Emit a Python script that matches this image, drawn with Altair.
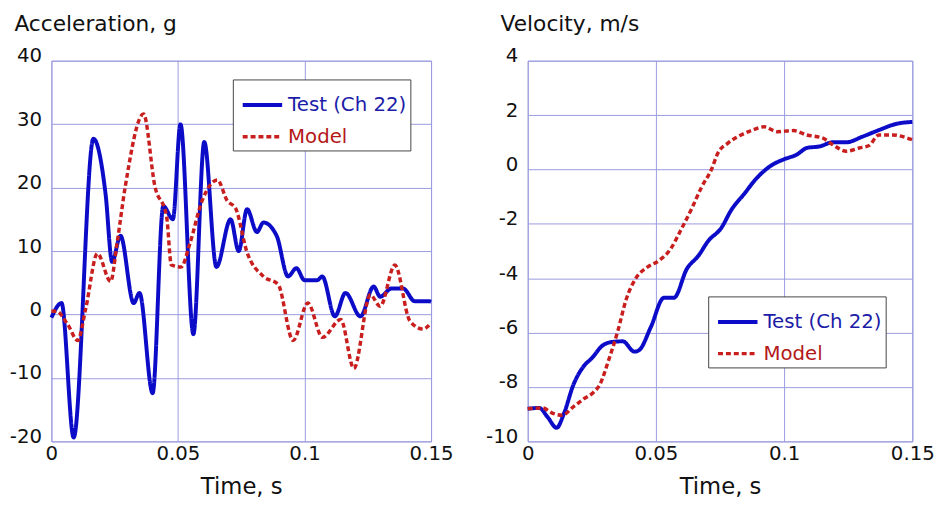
import altair as alt
import pandas as pd

SERIES = ["Test (Ch 22)", "Model"]
BLUE = "#0c0cc8"
RED = "#c81e1e"
GRID = "#9a9ae0"
FONT = "DejaVu Sans"

# ---- Acceleration (g) ----
acc_t_test = [0, 0.004, 0.0088, 0.0166, 0.0214, 0.024, 0.0273, 0.0325, 0.0348, 0.04,
              0.0442, 0.048, 0.051, 0.0561, 0.0604, 0.0652, 0.0708, 0.074, 0.0773, 0.0812,
              0.0838, 0.089, 0.0935, 0.0968, 0.1, 0.105, 0.107, 0.112, 0.1162, 0.1221,
              0.1273, 0.1299, 0.1344, 0.139, 0.1435, 0.149, 0.15]
acc_test = [-0.5, 1.8, -19.4, 27.7, 19, 8.3, 12.4, 1.8, 3.4, -12.4,
            17.1, 15, 30, -3.1, 27.2, 7.5, 15, 10, 16.6, 13,
            14.5, 12.4, 6, 7.3, 5.4, 5.4, 6, -0.3, 3.4, -0.3,
            4.4, 2.8, 4.1, 4.1, 2.1, 2.1, 2.0]
acc_t_model = [0, 0.002, 0.0065, 0.0104, 0.0136, 0.0182, 0.0234, 0.026, 0.0292, 0.0364,
               0.0409, 0.0455, 0.0474, 0.0513, 0.0545, 0.0597, 0.0656, 0.0695, 0.0727, 0.0773,
               0.0838, 0.0896, 0.0955, 0.1013, 0.1071, 0.1143, 0.1195, 0.126, 0.1299, 0.1357,
               0.1416, 0.1468, 0.15]
acc_model = [0.5, 0.5, -1.6, -4.1, 1, 9.6, 5.2, 11.4, 20.2, 31.6,
             20.2, 15.5, 7.8, 7.5, 10.9, 18.1, 21.2, 17.9, 16.8, 9.8,
             6, 4.7, -4.1, 1.8, -3.6, -0.8, -8.5, 3.1, 1.3, 7.8,
             -1, -2.3, -1.3]

# ---- Velocity (m/s) ----
vel_t_test = [0, 0.0045, 0.0077, 0.0113, 0.0141, 0.0179, 0.0218, 0.025, 0.0294, 0.0333,
              0.0371, 0.0416, 0.0435, 0.048, 0.0531, 0.057, 0.0621, 0.0666, 0.0704, 0.0755,
              0.0794, 0.0845, 0.089, 0.0947, 0.0998, 0.105, 0.1088, 0.1139, 0.119, 0.1242,
              0.1306, 0.137, 0.1434, 0.15]
vel_test = [-8.8, -8.77, -9.1, -9.5, -8.98, -7.9, -7.24, -6.94, -6.46, -6.34,
            -6.32, -6.7, -6.64, -5.8, -4.72, -4.72, -3.65, -3.17, -2.63, -2.15,
            -1.49, -0.89, -0.35, 0.13, 0.37, 0.55, 0.79, 0.85, 1.0, 1.0,
            1.21, 1.45, 1.67, 1.75]
vel_t_model = [0, 0.0058, 0.0096, 0.0134, 0.0179, 0.0218, 0.0256, 0.0282, 0.0314, 0.0352,
               0.0384, 0.0422, 0.0467, 0.0512, 0.0557, 0.0595, 0.064, 0.0678, 0.0717, 0.0742,
               0.0781, 0.0832, 0.0877, 0.0922, 0.0973, 0.1037, 0.1088, 0.1152, 0.119, 0.1242,
               0.1293, 0.1331, 0.137, 0.1421, 0.15]
vel_model = [-8.8, -8.77, -8.96, -9.04, -8.72, -8.44, -8.2, -7.9, -7.06, -5.92,
             -4.78, -4.0, -3.59, -3.35, -2.93, -2.27, -1.43, -0.65, 0.01, 0.61,
             0.97, 1.27, 1.45, 1.57, 1.39, 1.43, 1.27, 1.15, 0.91, 0.67,
             0.79, 0.88, 1.27, 1.27, 1.09]

x_ticks = [0, 0.05, 0.1, 0.15]
acc_ticks = [-20, -10, 0, 10, 20, 30, 40]
vel_ticks = [-10, -8, -6, -4, -2, 0, 2, 4]


def make_df(t1, v1, t2, v2):
    rows = [{"t": t, "v": v, "s": SERIES[0]} for t, v in zip(t1, v1)]
    rows += [{"t": t, "v": v, "s": SERIES[1]} for t, v in zip(t2, v2)]
    return pd.DataFrame(rows)


def panel(df, ydom, yvals, title, tx, ty, lx, ly, w, h):
    leg = alt.Legend(
        title=None, orient="none", legendX=lx, legendY=ly,
        fillColor="white", strokeColor="#444444", padding=4, rowPadding=0,
        symbolType="stroke", symbolSize=1600, symbolStrokeWidth=3, symbolOffset=4,
        labelOffset=4, labelFont=FONT, labelFontSize=20,
        labelColor=alt.ExprRef("datum.value == 'Model' ? '#b41818' : '#1c1ca8'"),
    )
    return alt.Chart(df).mark_line(interpolate="monotone").encode(
        x=alt.X("t:Q", scale=alt.Scale(domain=[0, 0.15], nice=False, zero=False),
                axis=alt.Axis(values=x_ticks, labelExpr="'' + datum.value", grid=True,
                              gridColor=GRID, domain=False, ticks=False, labelPadding=2,
                              labelFlush=False, labelFont=FONT, labelFontSize=20,
                              labelColor="#111111", title="Time, s", titleFont=FONT,
                              titleFontSize=23, titleFontWeight="normal",
                              titleColor="#111111", titlePadding=13)),
        y=alt.Y("v:Q", scale=alt.Scale(domain=ydom, nice=False, zero=False),
                axis=alt.Axis(values=yvals, labelExpr="'' + datum.value", grid=True,
                              gridColor=GRID, domain=False, ticks=False, labelPadding=10,
                              labelOffset=-5, labelFont=FONT, labelFontSize=20,
                              labelColor="#111111", title=title, titleFont=FONT,
                              titleFontSize=22, titleFontWeight="normal",
                              titleColor="#111111", titleAngle=0, titleAlign="left",
                              titleBaseline="alphabetic", titleX=tx, titleY=ty,
                              minExtent=42, maxExtent=42)),
        color=alt.Color("s:N", scale=alt.Scale(domain=SERIES, range=[BLUE, RED]), legend=leg),
        strokeDash=alt.StrokeDash("s:N", scale=alt.Scale(domain=SERIES, range=[[1, 0], [5, 3]]),
                                  legend=leg),
        strokeWidth=alt.StrokeWidth("s:N", scale=alt.Scale(domain=SERIES, range=[4, 3.5]),
                                    legend=None),
        order=alt.Order("t:Q"),
    ).properties(width=w, height=h)


left = panel(make_df(acc_t_test, acc_test, acc_t_model, acc_model), [-20, 40], acc_ticks,
             "Acceleration, g", -38, -31, 184, 19, 385, 386)
right = panel(make_df(vel_t_test, vel_test, vel_t_model, vel_model), [-10, 4], vel_ticks,
              "Velocity, m/s", -28, -31, 183, 239, 390, 386)

chart = alt.hconcat(left, right, spacing=31).resolve_scale(
    color="independent", strokeDash="independent", strokeWidth="independent"
).resolve_legend(
    color="independent", strokeDash="independent"
).properties(
    padding={"left": 0, "top": 0, "right": 0, "bottom": -2}
).configure_view(stroke=GRID, strokeWidth=1)

chart.save("out.html", embed_options={"renderer": "svg", "actions": False})
